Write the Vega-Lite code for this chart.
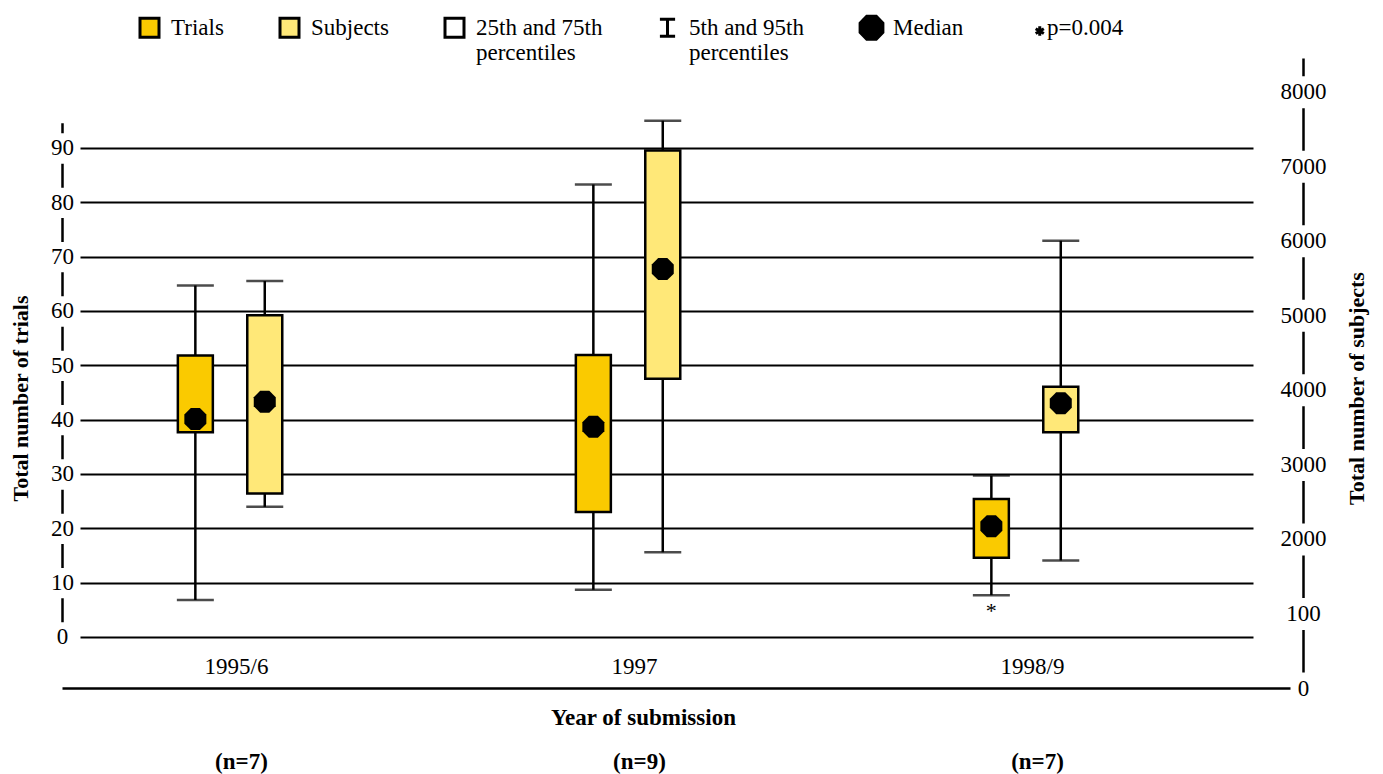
{
  "$schema": "https://vega.github.io/schema/vega-lite/v6.json",
  "width": 1173,
  "height": 630,
  "autosize": {"type": "none"},
  "padding": {"left": 80, "top": 58, "right": 130, "bottom": 86},
  "background": "white",
  "config": {
    "view": {"stroke": null},
    "font": "Liberation Serif",
    "axis": {"labelFont": "Liberation Serif", "titleFont": "Liberation Serif", "labelColor": "black", "titleColor": "black", "labelFontSize": 23, "titleFontSize": 23, "domainColor": "black", "tickColor": "black", "gridColor": "black"},
    "legend": {"symbolStrokeColor": "black", "symbolStrokeWidth": 3}
  },
  "datasets": {
    "boxes": [
      {"year": "1995/6", "series": "Trials", "n": 7, "low": 6.8, "q1": 37.7, "median": 40.1, "q3": 51.8, "high": 64.7, "note": ""},
      {"year": "1995/6", "series": "Subjects", "n": 7, "low": 2430, "q1": 2610, "median": 3840, "q3": 5000, "high": 5460, "note": ""},
      {"year": "1997", "series": "Trials", "n": 9, "low": 8.7, "q1": 23.0, "median": 38.7, "q3": 51.9, "high": 83.3, "note": ""},
      {"year": "1997", "series": "Subjects", "n": 9, "low": 1820, "q1": 4150, "median": 5620, "q3": 7210, "high": 7610, "note": ""},
      {"year": "1998/9", "series": "Trials", "n": 7, "low": 7.7, "q1": 14.6, "median": 20.4, "q3": 25.4, "high": 29.7, "note": "*"},
      {"year": "1998/9", "series": "Subjects", "n": 7, "low": 1710, "q1": 3430, "median": 3820, "q3": 4040, "high": 6000, "note": ""}
    ],
    "legendItems": [
      {"item": "Trials"},
      {"item": "Subjects"},
      {"item": "25th and 75th percentiles"},
      {"item": "5th and 95th percentiles"},
      {"item": "Median"},
      {"item": "p=0.004"}
    ]
  },
  "resolve": {"scale": {"y": "independent"}, "axis": {"x": "independent", "y": "independent"}},
  "layer": [
    {
      "data": {"name": "legendItems"},
      "mark": {"type": "point", "filled": true, "size": 0, "strokeWidth": 3},
      "encoding": {
        "y": {
          "datum": 0, "type": "quantitative",
          "scale": {"domain": [-9.39, 106.56], "nice": false, "zero": false},
          "axis": {"orient": "left", "offset": 0, "title": null, "values": [0, 10, 20, 30, 40, 50, 60, 70, 80, 90], "grid": true, "gridWidth": 2, "gridColor": "black", "domain": false, "labels": false, "ticks": false}
        },
        "fill": {
          "field": "item", "type": "nominal",
          "scale": {"domain": ["Trials", "Subjects", "25th and 75th percentiles", "5th and 95th percentiles", "Median", "p=0.004"], "range": ["#FACA00", "#FFE878", "white", "black", "black", "black"]},
          "legend": {
            "title": null, "orient": "none", "legendX": 58, "legendY": -42, "direction": "horizontal",
            "columnPadding": 50, "labelOffset": 10, "labelFontSize": 23, "labelFont": "Liberation Serif", "labelColor": "black", "labelLimit": 0,
            "symbolSize": 361, "symbolStrokeWidth": 3, "symbolStrokeColor": "black", "symbolOpacity": 1,
            "labelExpr": "datum.label == '25th and 75th percentiles' ? ['25th and 75th', 'percentiles'] : datum.label == '5th and 95th percentiles' ? ['5th and 95th', 'percentiles'] : [datum.label, '']"
          }
        },
        "stroke": {
          "field": "item", "type": "nominal",
          "scale": {"domain": ["Trials", "Subjects", "25th and 75th percentiles", "5th and 95th percentiles", "Median", "p=0.004"], "range": ["black", "black", "black", "black", "black", "black"]},
          "legend": {
            "title": null, "orient": "none", "legendX": 58, "legendY": -42, "direction": "horizontal",
            "columnPadding": 50, "labelOffset": 10, "labelFontSize": 23, "labelFont": "Liberation Serif", "labelColor": "black", "labelLimit": 0,
            "symbolSize": 361, "symbolStrokeWidth": 3, "symbolOpacity": 1,
            "labelExpr": "datum.label == '25th and 75th percentiles' ? ['25th and 75th', 'percentiles'] : datum.label == '5th and 95th percentiles' ? ['5th and 95th', 'percentiles'] : [datum.label, '']"
          }
        },
        "shape": {
          "field": "item", "type": "nominal",
          "scale": {
            "domain": ["Trials", "Subjects", "25th and 75th percentiles", "5th and 95th percentiles", "Median", "p=0.004"],
            "range": [
              "M-1,-1H1V1H-1Z",
              "M-1,-1H1V1H-1Z",
              "M-1,-1H1V1H-1Z",
              "M-0.8,-0.9H0.8M0,-0.9V0.9M-0.8,0.9H0.8",
              "M-0.5,-1.2L0.5,-1.2L1.2,-0.5L1.2,0.5L0.5,1.2L-0.5,1.2L-1.2,0.5L-1.2,-0.5Z",
              "M1.5,-0.15V0.85M1.07,0.1L1.93,0.6M1.07,0.6L1.93,0.1"
            ]
          },
          "legend": {
            "title": null, "orient": "none", "legendX": 58, "legendY": -42, "direction": "horizontal",
            "columnPadding": 50, "labelOffset": 10, "labelFontSize": 23, "labelFont": "Liberation Serif", "labelColor": "black", "labelLimit": 0,
            "symbolSize": 361, "symbolStrokeWidth": 3, "symbolStrokeColor": "black", "symbolOpacity": 1,
            "labelExpr": "datum.label == '25th and 75th percentiles' ? ['25th and 75th', 'percentiles'] : datum.label == '5th and 95th percentiles' ? ['5th and 95th', 'percentiles'] : [datum.label, '']"
          }
        }
      }
    },
    {
      "data": {"name": "boxes"},
      "transform": [{"filter": "datum.series == 'Trials'"}],
      "encoding": {
        "x": {
          "field": "year", "type": "nominal", "sort": ["1995/6", "1997", "1998/9"],
          "scale": {"range": [-18, 1210], "paddingInner": 0, "paddingOuter": 0.0427, "align": 0.22},
          "axis": {
            "orient": "bottom",
            "title": "Year of submission", "titleFontWeight": "bold", "titleFontSize": 23,
            "titleX": 563, "titleY": 29, "titleBaseline": "middle", "titleAlign": "center",
            "labelAngle": 0, "labelBaseline": "middle", "labelAlign": "center", "labelPadding": -22, "labelOffset": -32,
            "ticks": false, "domainWidth": 2.5, "grid": false
          }
        },
        "xOffset": {
          "field": "series", "type": "nominal",
          "scale": {"domain": ["pad1", "Trials", "Subjects", "pad2", "pad3"], "paddingInner": 0, "paddingOuter": 0.367, "align": 0.427}
        }
      },
      "layer": [
        {
          "mark": {"type": "rule", "color": "black", "strokeWidth": 2.5},
          "encoding": {
            "y": {
              "field": "low", "type": "quantitative",
              "scale": {"domain": [-9.39, 106.56], "nice": false, "zero": false},
              "axis": {
                "title": "Total number of trials", "orient": "left", "offset": 18,
                "values": [0, 10, 20, 30, 40, 50, 60, 70, 80, 90],
                "grid": false, "ticks": false,
                "labelAlign": "center", "labelBaseline": "middle", "labelPadding": 0,
                "domainWidth": 2.5,
                "domainDash": [0, 66.17, 24, 30.33, 24, 30.33, 24, 30.33, 24, 30.33, 24, 30.33, 24, 30.33, 24, 30.33, 24, 30.33, 24, 30.33, 10, 300],
                "titleAngle": -90, "titleX": -42, "titleY": 340, "titleBaseline": "middle", "titleAlign": "center",
                "titleFontWeight": "bold", "titleFontSize": 22
              }
            },
            "y2": {"field": "high"}
          }
        },
        {
          "mark": {"type": "tick", "color": "black", "size": 37, "thickness": 2.5},
          "encoding": {"y": {"field": "low", "type": "quantitative", "scale": {"domain": [-9.39, 106.56], "nice": false, "zero": false}}}
        },
        {
          "mark": {"type": "tick", "color": "black", "size": 37, "thickness": 2.5},
          "encoding": {"y": {"field": "high", "type": "quantitative", "scale": {"domain": [-9.39, 106.56], "nice": false, "zero": false}}}
        },
        {
          "mark": {"type": "bar", "width": 35, "fill": "#FACA00", "stroke": "black", "strokeWidth": 2.5},
          "encoding": {
            "y": {"field": "q1", "type": "quantitative", "scale": {"domain": [-9.39, 106.56], "nice": false, "zero": false}},
            "y2": {"field": "q3"}
          }
        },
        {
          "mark": {"type": "point", "filled": true, "color": "black", "opacity": 1, "size": 484, "shape": "M-0.414,-1L0.414,-1L1,-0.414L1,0.414L0.414,1L-0.414,1L-1,0.414L-1,-0.414Z"},
          "encoding": {"y": {"field": "median", "type": "quantitative", "scale": {"domain": [-9.39, 106.56], "nice": false, "zero": false}}}
        },
        {
          "transform": [{"filter": "datum.note != ''"}],
          "mark": {"type": "text", "baseline": "middle", "align": "center", "dy": 16, "fontSize": 22, "font": "Liberation Serif", "color": "black"},
          "encoding": {
            "y": {"field": "low", "type": "quantitative", "scale": {"domain": [-9.39, 106.56], "nice": false, "zero": false}},
            "text": {"field": "note"}
          }
        }
      ]
    },
    {
      "data": {"name": "boxes"},
      "transform": [{"filter": "datum.series == 'Subjects'"}],
      "encoding": {
        "x": {
          "field": "year", "type": "nominal", "sort": ["1995/6", "1997", "1998/9"],
          "scale": {"range": [-18, 1210], "paddingInner": 0, "paddingOuter": 0.0427, "align": 0.22},
          "axis": {
            "orient": "bottom",
            "title": null, "domain": false, "ticks": false, "grid": false,
            "labelAngle": 0, "labelBaseline": "middle", "labelAlign": "center", "labelPadding": 73, "labelOffset": -27,
            "labelFontWeight": "bold",
            "labelExpr": "datum.value == '1997' ? '(n=9)' : '(n=7)'"
          }
        },
        "xOffset": {
          "field": "series", "type": "nominal",
          "scale": {"domain": ["pad1", "Trials", "Subjects", "pad2", "pad3"], "paddingInner": 0, "paddingOuter": 0.367, "align": 0.427}
        }
      },
      "layer": [
        {
          "mark": {"type": "rule", "color": "black", "strokeWidth": 2.5},
          "encoding": {
            "y": {
              "field": "low", "type": "quantitative",
              "scale": {"domain": [0, 8452], "nice": false, "zero": false},
              "axis": {
                "title": "Total number of subjects", "orient": "right", "offset": 50,
                "values": [0, 1000, 2000, 3000, 4000, 5000, 6000, 7000, 8000],
                "format": "d",
                "labelExpr": "datum.value == 1000 ? '100' : datum.label",
                "grid": false, "ticks": false,
                "labelAlign": "center", "labelBaseline": "middle", "labelPadding": 0,
                "domainWidth": 2.5, "domainDash": [42.54, 32], "domainDashOffset": 58.54,
                "titleAngle": -90, "titleX": 53, "titleY": 330, "titleBaseline": "middle", "titleAlign": "center",
                "titleFontWeight": "bold", "titleFontSize": 22
              }
            },
            "y2": {"field": "high"}
          }
        },
        {
          "mark": {"type": "tick", "color": "black", "size": 37, "thickness": 2.5},
          "encoding": {"y": {"field": "low", "type": "quantitative", "scale": {"domain": [0, 8452], "nice": false, "zero": false}}}
        },
        {
          "mark": {"type": "tick", "color": "black", "size": 37, "thickness": 2.5},
          "encoding": {"y": {"field": "high", "type": "quantitative", "scale": {"domain": [0, 8452], "nice": false, "zero": false}}}
        },
        {
          "mark": {"type": "bar", "width": 35, "fill": "#FFE878", "stroke": "black", "strokeWidth": 2.5},
          "encoding": {
            "y": {"field": "q1", "type": "quantitative", "scale": {"domain": [0, 8452], "nice": false, "zero": false}},
            "y2": {"field": "q3"}
          }
        },
        {
          "mark": {"type": "point", "filled": true, "color": "black", "opacity": 1, "size": 484, "shape": "M-0.414,-1L0.414,-1L1,-0.414L1,0.414L0.414,1L-0.414,1L-1,0.414L-1,-0.414Z"},
          "encoding": {"y": {"field": "median", "type": "quantitative", "scale": {"domain": [0, 8452], "nice": false, "zero": false}}}
        }
      ]
    }
  ]
}
